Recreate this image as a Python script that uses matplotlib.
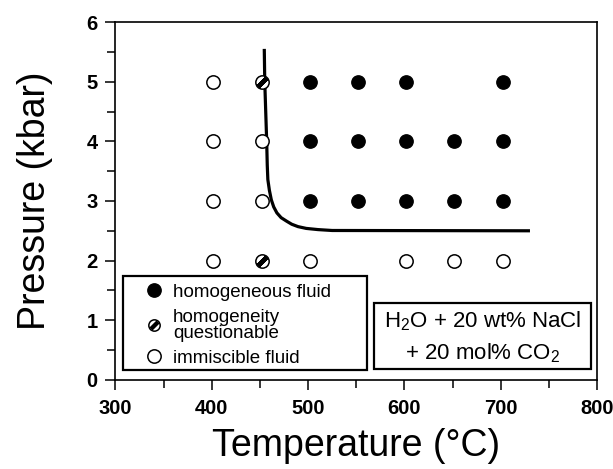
import matplotlib
matplotlib.use("Agg")
import matplotlib.pyplot as plt
from matplotlib.lines import Line2D
from matplotlib.patches import Rectangle
from matplotlib.legend_handler import HandlerTuple
from matplotlib.ticker import MultipleLocator

plt.rcParams['font.family'] = ['Liberation Sans', 'DejaVu Sans']
plt.rcParams['mathtext.fontset'] = 'custom'
plt.rcParams['mathtext.rm'] = 'Liberation Sans'
plt.rcParams['mathtext.default'] = 'regular'

# ---- data ----
homog_T = [502, 552, 602, 702, 502, 552, 602, 652, 702, 502, 552, 602, 652, 702]
homog_P = [5, 5, 5, 5, 4, 4, 4, 4, 4, 3, 3, 3, 3, 3]

quest_T = [452, 452]
quest_P = [5, 2]

immisc_T = [401, 401, 401, 401, 452, 452, 502, 602, 652, 702]
immisc_P = [5, 4, 3, 2, 4, 3, 2, 2, 2, 2]

curve_T = [454.5, 455, 456, 457, 457.6, 458.2, 459.8, 461.8, 464.3, 467.6, 472, 477.8, 483, 489.5, 498, 510.3, 525, 730.4]
curve_P = [5.55, 5.0, 4.5, 4.0, 3.6, 3.36, 3.18, 3.02, 2.9, 2.80, 2.72, 2.66, 2.61, 2.57, 2.54, 2.52, 2.505, 2.50]

xlabel = 'Temperature (°C)'
ylabel = 'Pressure (kbar)'
legend_labels = ['homogeneous fluid', 'homogeneity\nquestionable', 'immiscible fluid']
box_lines = ['H$_2$O + 20 wt% NaCl', '+ 20 mol% CO$_2$']

fig = plt.figure(figsize=(6.13, 4.69), dpi=100)
ax = fig.add_axes([0.1884, 0.190, 0.7855, 0.763])

ms = 9.6
ax.plot(curve_T, curve_P, color='black', lw=2.3, solid_capstyle='butt', zorder=2)
ax.plot(homog_T, homog_P, ls='none', marker='o', ms=ms, mfc='black', mec='black', mew=1.0, zorder=3)
ax.plot(immisc_T, immisc_P, ls='none', marker='o', ms=ms, mfc='white', mec='black', mew=1.1, zorder=3)
ax.plot(quest_T, quest_P, ls='none', marker='o', ms=ms, mfc='white', mec='black', mew=1.1, zorder=3)
ax.plot(quest_T, quest_P, ls='none', marker=(2, 2, -45), ms=ms * 0.85, mec='black', mew=3.2, zorder=4)

ax.set_xlim(300, 800)
ax.set_ylim(0, 6)
ax.xaxis.set_major_locator(MultipleLocator(100))
ax.xaxis.set_minor_locator(MultipleLocator(50))
ax.yaxis.set_major_locator(MultipleLocator(1))
ax.yaxis.set_minor_locator(MultipleLocator(0.5))
ax.tick_params(which='both', direction='out', width=1.1, top=False, right=False)
ax.tick_params(which='major', length=7, labelsize=14.5)
ax.tick_params(axis='x', which='major', pad=7)
ax.tick_params(axis='y', which='major', pad=6)
ax.tick_params(which='minor', length=6)
for lab in ax.get_xticklabels() + ax.get_yticklabels():
    lab.set_fontweight('bold')
for sp in ax.spines.values():
    sp.set_linewidth(1.2)

ax.set_xlabel(xlabel, fontsize=27, labelpad=7)
ax.set_ylabel(ylabel, fontsize=27, labelpad=24)

# legend frame
ax.add_patch(Rectangle((0.0156, 0.028), 0.5064, 0.262, transform=ax.transAxes,
                       fill=False, ec='black', lw=1.6, zorder=5))
h1 = Line2D([], [], ls='none', marker='o', ms=ms, mfc='black', mec='black')
h2a = Line2D([], [], ls='none', marker='o', ms=ms * 0.85, mfc='white', mec='black', mew=1.1)
h2b = Line2D([], [], ls='none', marker=(2, 2, -45), ms=ms * 0.72, mec='black', mew=2.8)
h3 = Line2D([], [], ls='none', marker='o', ms=ms, mfc='white', mec='black', mew=1.1)
leg = ax.legend([h1, (h2a, h2b), h3], legend_labels,
                handler_map={tuple: HandlerTuple(ndivide=1, pad=0)},
                loc='upper left', bbox_to_anchor=(0.053, 0.285), frameon=False,
                fontsize=13.5, handlelength=0.8, handletextpad=0.6,
                labelspacing=0.42, borderpad=0.3, borderaxespad=0)
leg.get_texts()[1].set_linespacing(0.95)

# composition box
ax.add_patch(Rectangle((0.537, 0.0307), 0.4505, 0.1843, transform=ax.transAxes,
                       fill=False, ec='black', lw=1.6, zorder=5))
ax.text(0.762, 0.163, box_lines[0], transform=ax.transAxes, ha='center', va='center', fontsize=16)
ax.text(0.762, 0.075, box_lines[1], transform=ax.transAxes, ha='center', va='center', fontsize=16)

fig.savefig('out.png', dpi=100)
